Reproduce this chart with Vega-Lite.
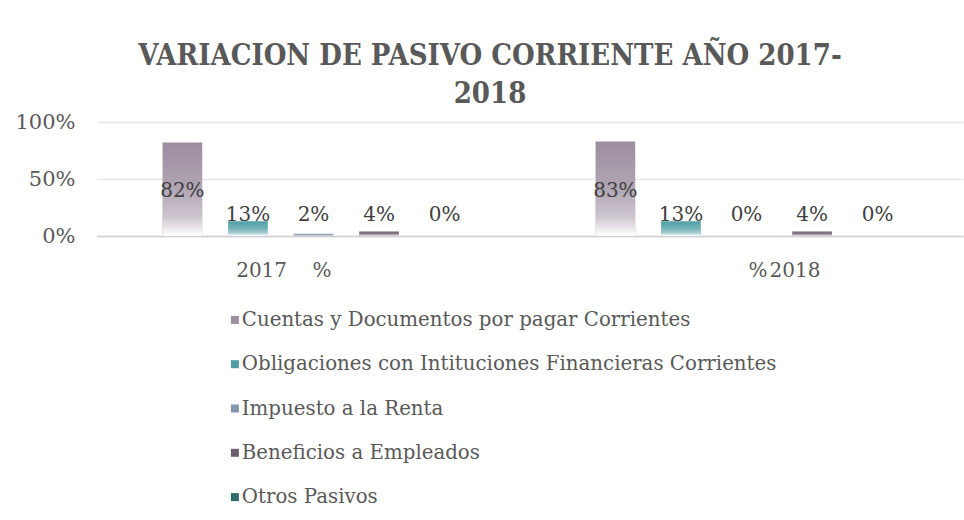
{
  "$schema": "https://vega.github.io/schema/vega-lite/v6.json",
  "width": 866,
  "height": 114,
  "autosize": "none",
  "padding": {"left": 97, "top": 122, "right": 1, "bottom": 284},
  "background": "white",
  "title": {
    "text": ["VARIACION DE PASIVO CORRIENTE AÑO 2017-", "2018"],
    "font": "DejaVu Serif Condensed",
    "fontSize": 29,
    "fontWeight": "bold",
    "color": "#595959",
    "lineHeight": 38,
    "anchor": "middle",
    "dx": -40,
    "offset": 2
  },
  "data": {
    "values": [
      {"year": "2017", "cat": "Cuentas y Documentos por pagar Corrientes", "value": 0.82},
      {"year": "2017", "cat": "Obligaciones con Intituciones Financieras Corrientes", "value": 0.13},
      {"year": "2017", "cat": "Impuesto a la Renta", "value": 0.02},
      {"year": "2017", "cat": "Beneficios a Empleados", "value": 0.04},
      {"year": "2017", "cat": "Otros Pasivos", "value": 0.0},
      {"year": "2018", "cat": "Cuentas y Documentos por pagar Corrientes", "value": 0.83},
      {"year": "2018", "cat": "Obligaciones con Intituciones Financieras Corrientes", "value": 0.13},
      {"year": "2018", "cat": "Impuesto a la Renta", "value": 0.0},
      {"year": "2018", "cat": "Beneficios a Empleados", "value": 0.04},
      {"year": "2018", "cat": "Otros Pasivos", "value": 0.0}
    ]
  },
  "encoding": {
    "x": {
      "field": "year",
      "type": "nominal",
      "scale": {"paddingInner": 0, "paddingOuter": 0},
      "axis": {
        "title": null,
        "labelAngle": 0,
        "ticks": false,
        "domain": true,
        "domainColor": "#d0d0d0",
        "domainWidth": 1.5,
        "labelFont": "DejaVu Serif",
        "labelFontSize": 20,
        "labelColor": "#595959",
        "labelPadding": 24,
        "labelExpr": "datum.value == '2017' ? '2017\u00a0\u00a0\u00a0\u00a0%' : '%\u200a2018'",
        "labelAlign": {"condition": {"test": "datum.value == '2017'", "value": "right"}, "value": "left"},
        "labelOffset": {"condition": {"test": "datum.value == '2017'", "value": 18}, "value": 2}
      }
    },
    "xOffset": {
      "field": "cat",
      "type": "nominal",
      "sort": null,
      "scale": {"paddingInner": 0.395, "paddingOuter": 1.04}
    }
  },
  "layer": [
    {
      "mark": {"type": "bar"},
      "encoding": {
        "y": {
          "field": "value",
          "type": "quantitative",
          "scale": {"domain": [0, 1]},
          "axis": {
            "title": null,
            "values": [0, 0.5, 1],
            "format": ".0%",
            "domain": false,
            "ticks": false,
            "grid": true,
            "gridColor": "#e6e6e6",
            "gridWidth": 1.5,
            "labelFont": "DejaVu Serif",
            "labelFontSize": 21,
            "labelColor": "#595959",
            "labelPadding": 22
          }
        },
        "color": {
          "field": "cat",
          "type": "nominal",
          "scale": {
            "domain": [
              "Cuentas y Documentos por pagar Corrientes",
              "Obligaciones con Intituciones Financieras Corrientes",
              "Impuesto a la Renta",
              "Beneficios a Empleados",
              "Otros Pasivos"
            ],
            "range": ["#9c8d9f", "#4f9ea6", "#8394ad", "#6e5c70", "#2f6b6b"]
          },
          "legend": {
            "title": null,
            "orient": "none",
            "legendX": 128,
            "legendY": 188,
            "direction": "vertical",
            "symbolType": "square",
            "symbolSize": 64,
            "symbolStrokeWidth": 0,
            "labelFont": "DejaVu Serif",
            "labelFontSize": 19.8,
            "labelColor": "#595959",
            "labelOffset": -3,
            "rowPadding": 23.3,
            "labelLimit": 700
          }
        }
      }
    },
    {
      "mark": {
        "type": "bar",
        "fill": {
          "gradient": "linear",
          "x1": 0, "y1": 0, "x2": 0, "y2": 1,
          "stops": [
            {"offset": 0, "color": "rgba(255,255,255,0)"},
            {"offset": 0.5, "color": "rgba(255,255,255,0.22)"},
            {"offset": 0.8, "color": "rgba(255,255,255,0.5)"},
            {"offset": 1, "color": "rgba(255,255,255,1)"}
          ]
        }
      },
      "encoding": {
        "y": {"field": "value", "type": "quantitative"}
      }
    },
    {
      "transform": [{"calculate": "max(datum.value / 2, 0.2)", "as": "labelY"}],
      "mark": {"type": "text", "font": "DejaVu Serif", "fontSize": 20, "color": "#404040", "baseline": "middle", "dy": 2},
      "encoding": {
        "y": {"field": "labelY", "type": "quantitative"},
        "text": {"field": "value", "type": "quantitative", "format": ".0%"}
      }
    }
  ],
  "config": {
    "view": {"stroke": null}
  }
}
